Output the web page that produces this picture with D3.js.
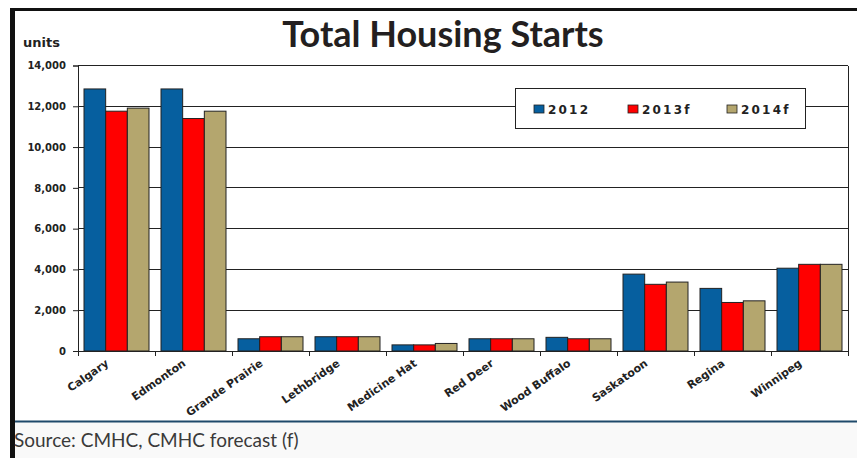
<!DOCTYPE html>
<html>
<head>
<meta charset="utf-8">
<script src="https://cdn.jsdelivr.net/npm/d3@7"></script>
<style>
  html, body { margin: 0; padding: 0; background: #fff; }
  svg { display: block; }
</style>
</head>
<body>
<svg id="chart" width="857" height="458"></svg>
<script>
// Housing starts by centre, actual 2012 and forecasts for 2013 and 2014
const cities = ["Calgary", "Edmonton", "Grande Prairie", "Lethbridge", "Medicine Hat",
                "Red Deer", "Wood Buffalo", "Saskatoon", "Regina", "Winnipeg"];
const seriesNames = ["2012", "2013f", "2014f"];
const starts2012  = [12850, 12850, 600, 700, 300, 600, 670, 3770, 3070, 4060];
const starts2013f = [11760, 11400, 700, 700, 300, 600, 600, 3270, 2380, 4250];
const starts2014f = [11910, 11760, 700, 700, 370, 600, 600, 3380, 2460, 4250];
const yTicks = [0, 2000, 4000, 6000, 8000, 10000, 12000, 14000];
const seriesColors = ["#065f9f", "#ff0000", "#b4a66e"];

const values = [starts2012, starts2013f, starts2014f];
const rows = cities.map((c, i) => ({ city: c, vals: values.map(v => v[i]) }));

const svg = d3.select("#chart");
const plot = { left: 78, right: 848, top: 65.5, bottom: 351 };

// Page frame: heavy black top and left rules, blue rule above the source note
svg.append("rect").attr("x", 15).attr("y", 422).attr("width", 842).attr("height", 36).attr("fill", "#f9f9f9");
svg.append("rect").attr("x", 10).attr("y", 8).attr("width", 847).attr("height", 3).attr("fill", "#111");
svg.append("rect").attr("x", 10).attr("y", 8).attr("width", 5).attr("height", 450).attr("fill", "#111");
svg.append("rect").attr("x", 15).attr("y", 420.5).attr("width", 842).attr("height", 2).attr("fill", "#1f4a6b");

const x = d3.scaleBand().domain(cities).range([plot.left, plot.right]).padding(0);
const xSub = d3.scaleBand().domain(seriesNames).range([6, x.bandwidth() - 6]).padding(0);
const y = d3.scaleLinear().domain([0, 14000]).range([plot.bottom, plot.top]);

// Gridlines
svg.append("g")
  .selectAll("line").data(yTicks.filter(t => t > 0)).join("line")
  .attr("x1", plot.left).attr("x2", plot.right)
  .attr("y1", d => y(d)).attr("y2", d => y(d))
  .attr("stroke", "#222").attr("stroke-width", 1).attr("shape-rendering", "crispEdges");

// Bars
const groups = svg.append("g").selectAll("g").data(rows).join("g")
  .attr("transform", d => `translate(${x(d.city)},0)`);
groups.selectAll("rect").data(d => d.vals.map((v, k) => ({ key: seriesNames[k], v, k }))).join("rect")
  .attr("x", d => xSub(d.key))
  .attr("width", xSub.bandwidth())
  .attr("y", d => y(d.v))
  .attr("height", d => y(0) - y(d.v))
  .attr("fill", d => seriesColors[d.k])
  .attr("stroke", "#222").attr("stroke-width", 1);

// Y axis
const yAxis = d3.axisLeft(y).tickValues(yTicks).tickSize(5).tickPadding(7)
  .tickFormat(d3.format(","));
const yg = svg.append("g").attr("transform", `translate(${plot.left},0)`).call(yAxis);
yg.select(".domain").attr("stroke", "#222");
yg.selectAll(".tick line").attr("stroke", "#222");
yg.selectAll(".tick text")
  .attr("font-family", "DejaVu Sans").attr("font-weight", "bold").attr("font-size", 10)
  .attr("fill", "#222");

// Right border of the plot
svg.append("line").attr("x1", plot.right).attr("x2", plot.right)
  .attr("y1", plot.top).attr("y2", plot.bottom)
  .attr("stroke", "#222").attr("shape-rendering", "crispEdges");

// X axis: ticks on category boundaries, rotated labels
const xg = svg.append("g").attr("transform", `translate(0,${plot.bottom})`);
xg.append("line").attr("x1", plot.left).attr("x2", plot.right)
  .attr("stroke", "#222").attr("shape-rendering", "crispEdges");
xg.selectAll("line.tk").data(d3.range(cities.length + 1)).join("line").attr("class", "tk")
  .attr("x1", i => plot.left + x.step() * i)
  .attr("x2", i => plot.left + x.step() * i)
  .attr("y1", 0).attr("y2", 5)
  .attr("stroke", "#222").attr("shape-rendering", "crispEdges");
xg.selectAll("text").data(cities).join("text")
  .attr("transform", d => `translate(${x(d) + x.bandwidth() / 2 - 7},${14}) rotate(-35)`)
  .attr("text-anchor", "end")
  .attr("font-family", "DejaVu Sans").attr("font-weight", "bold").attr("font-size", 11)
  .attr("fill", "#222")
  .text(d => d);

// Title and unit label
svg.append("text").attr("x", 443).attr("y", 46.5).attr("text-anchor", "middle")
  .attr("font-family", "Lato").attr("font-weight", "bold").attr("font-size", 36)
  .attr("fill", "#231f20").text("Total Housing Starts");
svg.append("text").attr("x", 23).attr("y", 47)
  .attr("font-family", "DejaVu Sans").attr("font-weight", "bold").attr("font-size", 13)
  .attr("fill", "#222").text("units");

// Legend
const legend = svg.append("g");
legend.append("rect").attr("x", 515.5).attr("y", 88.5).attr("width", 290).attr("height", 40)
  .attr("fill", "#fff").attr("stroke", "#222");
const legendX = [534, 628, 727];
seriesNames.forEach((s, i) => {
  legend.append("rect").attr("x", legendX[i]).attr("y", 105).attr("width", 10).attr("height", 8)
    .attr("fill", seriesColors[i]).attr("stroke", "#222").attr("stroke-width", 0.8);
  legend.append("text").attr("x", legendX[i] + 14).attr("y", 114)
    .attr("font-family", "DejaVu Sans").attr("font-weight", "bold").attr("font-size", 12)
    .attr("letter-spacing", 2.2).attr("fill", "#222").text(s);
});

// Source note
svg.append("text").attr("x", 14).attr("y", 447)
  .attr("font-family", "Lato").attr("font-size", 19).attr("fill", "#3a3a3a")
  .text("Source: CMHC, CMHC forecast (f)");
</script>
</body>
</html>
